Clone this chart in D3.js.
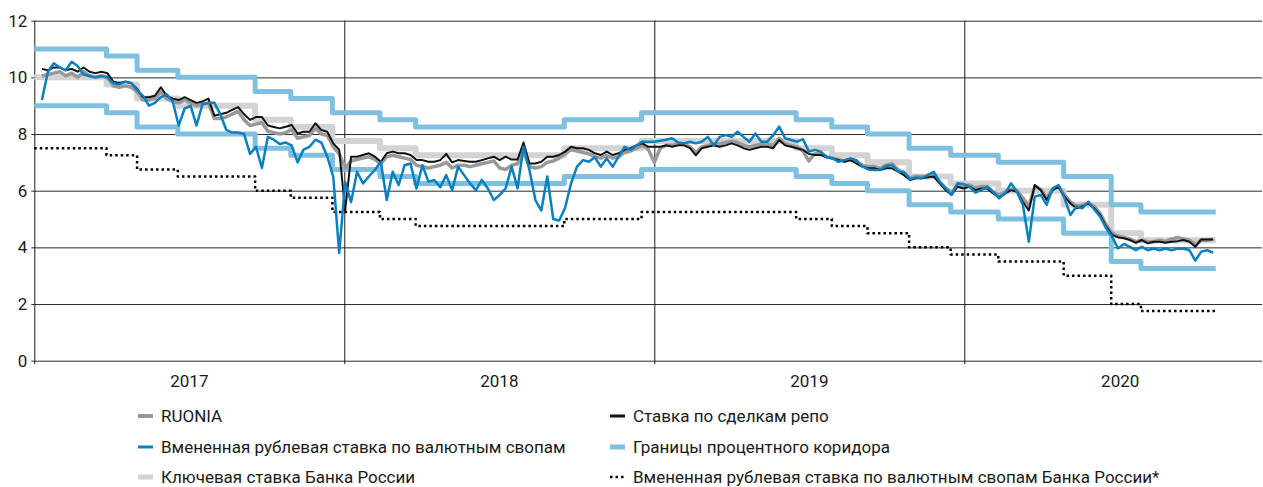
<!DOCTYPE html>
<html>
<head>
<meta charset="utf-8">
<script src="https://cdn.jsdelivr.net/npm/d3@7"></script>
<style>
  body { margin: 0; background: #fff; }
  svg { display: block; }
  text { font-family: Roboto, "Open Sans", sans-serif; fill: #1a1a1a; }
</style>
</head>
<body>
<svg width="1263" height="487"></svg>
<script>
// weekly observations, first one on 2017-01-10
var firstWeek = "2017-01-10";

var repo = [
  10.3, 10.25, 10.35, 10.35, 10.25, 10.3, 10.2, 10.35, 10.2, 10.15,
  10.2, 10.15, 9.85, 9.8, 9.85, 9.8, 9.6, 9.3, 9.3, 9.35,
  9.65, 9.35, 9.25, 9.2, 9.3, 9.2, 9.1, 9.15, 9.25, 8.65,
  8.7, 8.75, 8.85, 8.95, 8.7, 8.5, 8.6, 8.6, 8.3, 8.25,
  8.2, 8.26, 8.32, 8.02, 8.08, 8.08, 8.38, 8.14, 8.08, 7.67,
  7.45, 5.3,
  // 2018
  7.2, 7.2, 7.26, 7.32, 7.2, 7.02, 7.32, 7.38, 7.32, 7.32,
  7.26, 7.08, 7.08, 7.02, 7.02, 7.08, 7.3, 7.0, 7.08, 7.05,
  7.02, 7.02, 7.08, 7.14, 7.2, 7.08, 7.2, 7.1, 7.1, 7.7,
  6.96, 6.96, 7.02, 7.2, 7.2, 7.26, 7.38, 7.55, 7.5, 7.5,
  7.44, 7.32, 7.26, 7.38, 7.26, 7.32, 7.44, 7.5, 7.6, 7.67,
  7.55,
  // 2019
  7.55, 7.55, 7.6, 7.55, 7.6, 7.6, 7.5, 7.25, 7.5, 7.55,
  7.6, 7.55, 7.6, 7.67, 7.6, 7.5, 7.44, 7.5, 7.55, 7.55,
  7.5, 7.79, 7.6, 7.55, 7.5, 7.44, 7.3, 7.26, 7.26, 7.18,
  7.14, 7.08, 7.02, 7.08, 6.96, 6.85, 6.79, 6.79, 6.73, 6.79,
  6.79, 6.67, 6.55, 6.38, 6.44, 6.44, 6.47, 6.5, 6.26, 6.02,
  5.85, 6.14,
  // 2020
  6.08, 6.14, 6.02, 6.08, 6.08, 5.9, 5.76, 5.9, 6.02, 5.96,
  5.6, 5.3, 6.2, 6.02, 5.67, 6.02, 6.14, 5.79, 5.55, 5.38,
  5.44, 5.55, 5.38, 5.14, 4.73, 4.44, 4.35, 4.32, 4.26, 4.16,
  4.26, 4.14, 4.2, 4.2, 4.16, 4.2, 4.22, 4.26, 4.2, 4.02,
  4.28, 4.28, 4.28
];

var ruonia = [
  10.05, 10.1, 10.15, 10.2, 10.05, 10.15, 10.0, 10.2, 10.05, 10.0,
  10.05, 10.0, 9.7, 9.65, 9.7, 9.65, 9.5, 9.2, 9.2, 9.25,
  9.5, 9.25, 9.15, 9.1, 9.2, 9.1, 9.0, 9.05, 9.1, 8.55,
  8.55, 8.6, 8.7, 8.8, 8.5, 8.3, 8.35, 8.4, 8.1, 8.05,
  8.0, 8.05, 8.15, 7.85, 7.9, 7.95, 8.2, 8.0, 7.95, 7.55,
  7.3, 6.8,
  // 2018
  7.05, 7.1, 7.15, 7.2, 7.1, 6.95, 7.2, 7.25, 7.2, 7.15,
  7.1, 6.9, 6.85, 6.8, 6.85, 6.9, 7.0, 6.8, 6.9, 6.9,
  6.85, 6.9, 6.95, 7.0, 7.05, 6.8, 6.75, 6.9, 6.95, 7.4,
  6.85, 6.8, 6.85, 7.0, 7.05, 7.15, 7.3, 7.45, 7.4, 7.35,
  7.3, 7.2, 7.15, 7.25, 7.15, 7.2, 7.35, 7.4, 7.5, 7.6,
  7.45,
  // 2019
  7.0, 7.5, 7.6, 7.6, 7.65, 7.65, 7.55, 7.35, 7.55, 7.6,
  7.65, 7.65, 7.7, 7.75, 7.7, 7.6, 7.55, 7.6, 7.65, 7.65,
  7.6, 7.85, 7.65, 7.6, 7.55, 7.4, 7.05, 7.3, 7.3, 7.2,
  7.15, 7.1, 7.05, 7.1, 7.0, 6.9, 6.85, 6.85, 6.8, 6.9,
  6.95, 6.75, 6.6, 6.45, 6.5, 6.5, 6.5, 6.55, 6.3, 6.1,
  5.95, 6.2,
  // 2020
  6.15, 6.2, 6.1, 6.15, 6.15, 5.95, 5.85, 5.95, 6.05, 6.0,
  5.75, 5.45, 6.15, 6.05, 5.75, 6.05, 6.15, 5.85, 5.6, 5.45,
  5.5, 5.55, 5.45, 5.2, 4.8, 4.5, 4.4, 4.35, 4.3, 4.2,
  4.25, 4.2, 4.2, 4.25, 4.2, 4.3, 4.35, 4.3, 4.25, 4.1,
  4.25, 4.25, 4.3
];

var swap = [
  9.2, 10.2, 10.5, 10.35, 10.25, 10.55, 10.4, 10.1, 10.05, 10.0,
  10.05, 10.0, 9.8, 9.75, 9.85, 9.8, 9.55, 9.35, 9.0, 9.1,
  9.3, 9.4, 9.15, 8.3, 8.9, 9.0, 8.3, 9.05, 9.1, 9.1,
  8.7, 8.15, 8.05, 8.05, 8.0, 7.3, 7.55, 6.8, 7.9, 7.8,
  7.65, 7.7, 7.6, 7.0, 7.45, 7.55, 7.8, 7.7, 7.2, 6.5,
  3.8, 6.3,
  // 2018
  5.6, 6.67, 6.26, 6.5, 6.73, 7.02, 5.67, 6.67, 6.2, 6.9,
  6.96, 6.08, 6.9, 6.32, 6.38, 6.12, 6.55, 6.02, 6.85, 6.55,
  6.26, 6.02, 6.38, 6.08, 5.67, 5.85, 6.08, 6.85, 6.08, 7.55,
  6.73, 5.67, 5.3, 6.5, 5.0, 4.95, 5.4, 6.26, 6.85, 7.08,
  7.02, 7.18, 6.85, 7.14, 6.85, 7.2, 7.55, 7.44, 7.6, 7.73,
  7.73,
  // 2019
  7.73, 7.76, 7.8, 7.85, 7.7, 7.67, 7.73, 7.67, 7.73, 7.9,
  7.6, 7.9, 7.96, 7.9, 8.08, 7.9, 7.73, 8.02, 7.73, 7.73,
  7.96, 8.26, 7.85, 7.79, 7.73, 7.82, 7.38, 7.44, 7.38, 7.18,
  7.14, 7.02, 7.08, 7.14, 7.08, 6.85, 6.75, 6.73, 6.73, 6.87,
  6.9, 6.67, 6.67, 6.4, 6.47, 6.44, 6.55, 6.67, 6.32, 6.08,
  5.85, 6.26,
  // 2020
  6.24, 6.14, 5.93, 6.02, 6.14, 5.96, 5.73, 5.9, 6.26, 5.96,
  5.5, 4.2, 5.79, 5.85, 5.5, 6.08, 6.2, 5.73, 5.14, 5.44,
  5.38, 5.61, 5.34, 5.08, 4.67, 4.38, 3.96, 4.12, 4.02, 3.9,
  4.02, 3.9, 3.96, 3.9, 3.96, 3.9, 3.95, 3.96, 3.9, 3.53,
  3.85, 3.9, 3.81
];

// policy rate steps (value holds from its date until the next one)
var stepDates = [
  "2017-01-01", "2017-03-27", "2017-05-02", "2017-06-19", "2017-09-18",
  "2017-10-30", "2017-12-18", "2018-02-12", "2018-03-26", "2018-09-17",
  "2018-12-17", "2019-06-17", "2019-07-29", "2019-09-09", "2019-10-28",
  "2019-12-16", "2020-02-10", "2020-04-27", "2020-06-22", "2020-07-27"
];
var endDate = "2020-10-23";
var keyRate =     [10, 9.75, 9.25, 9, 8.5, 8.25, 7.75, 7.5, 7.25, 7.5, 7.75, 7.5, 7.25, 7, 6.5, 6.25, 6, 5.5, 4.5, 4.25];
var corridorTop = [11, 10.75, 10.25, 10, 9.5, 9.25, 8.75, 8.5, 8.25, 8.5, 8.75, 8.5, 8.25, 8, 7.5, 7.25, 7, 6.5, 5.5, 5.25];
var corridorBot = [9, 8.75, 8.25, 8, 7.5, 7.25, 6.75, 6.5, 6.25, 6.5, 6.75, 6.5, 6.25, 6, 5.5, 5.25, 5, 4.5, 3.5, 3.25];
var cbrSwap =     [7.5, 7.25, 6.75, 6.5, 6, 5.75, 5.25, 5, 4.75, 5, 5.25, 5, 4.75, 4.5, 4, 3.75, 3.5, 3, 2, 1.75];

var yTicks = [0, 2, 4, 6, 8, 10, 12];
var years = [2017, 2018, 2019, 2020];

var svg = d3.select("svg");
var parse = d3.timeParse("%Y-%m-%d");

// plot box (note: "top" is reserved on window, so prefixed names)
var plotL = 34.3, plotR = 1262, plotT = 20.7, plotB = 360.7;

var x = d3.scaleTime()
  .domain([new Date(2017, 0, 1), new Date(2020, 0, 1)])
  .range([plotL, plotL + 3 * 310]);
var y = d3.scaleLinear().domain([0, 12]).range([plotB, plotT]);

function weekly(values) {
  var start = parse(firstWeek);
  return values.map(function(v, i) { return { date: d3.timeDay.offset(start, 7 * i), v: v }; });
}
function steps(values) {
  var pts = values.map(function(v, i) { return { date: parse(stepDates[i]), v: v }; });
  pts.push({ date: parse(endDate), v: values[values.length - 1] });
  return pts;
}

// horizontal grid
var grid = svg.append("g").attr("transform", "translate(" + plotL + ",0)")
  .call(d3.axisLeft(y).tickValues(yTicks).tickSize(-(plotR - plotL)).tickFormat(""));
grid.select(".domain").remove();
grid.selectAll("line").attr("stroke", "#2a2a2a").attr("stroke-width", 1);

// y ticks and labels
var yAxis = svg.append("g").attr("transform", "translate(" + plotL + ",0)")
  .call(d3.axisLeft(y).tickValues(yTicks).tickSize(3).tickPadding(4));
yAxis.select(".domain").remove();
yAxis.selectAll("line").attr("stroke", "#2a2a2a");
yAxis.selectAll("text").style("font-size", "17px").style("font-family", "Roboto, sans-serif").attr("fill", "#1a1a1a");

// year boundaries
var xGrid = svg.append("g").attr("transform", "translate(0," + (plotB + 3.5) + ")")
  .call(d3.axisBottom(x).tickValues(years.map(function(d) { return new Date(d, 0, 1); }))
    .tickSize(-(plotB + 3.5 - plotT)).tickFormat(""));
xGrid.select(".domain").remove();
xGrid.selectAll("line").attr("stroke", "#1a1a1a").attr("stroke-width", 1);

// year labels at mid-year
var xAxis = svg.append("g").attr("transform", "translate(0," + plotB + ")")
  .call(d3.axisBottom(x).tickValues(years.map(function(d) { return new Date(d, 6, 2); }))
    .tickSize(0).tickPadding(14).tickFormat(d3.timeFormat("%Y")));
xAxis.select(".domain").remove();
xAxis.selectAll("text").style("font-size", "17px").style("font-family", "Roboto, sans-serif").attr("fill", "#1a1a1a");

var line = d3.line().x(function(d) { return x(d.date); }).y(function(d) { return y(d.v); });
var stepLine = d3.line().curve(d3.curveStepAfter).x(function(d) { return x(d.date); }).y(function(d) { return y(d.v); });

function draw(data, gen, color, width, dash) {
  svg.append("path")
    .datum(data)
    .attr("d", gen)
    .attr("fill", "none")
    .attr("stroke", color)
    .attr("stroke-width", width)
    .attr("stroke-linejoin", "round")
    .attr("stroke-dasharray", dash || null);
}

draw(steps(keyRate), stepLine, "#d3d3d3", 6);
draw(steps(corridorTop), stepLine, "#7fbfdf", 5);
draw(steps(corridorBot), stepLine, "#7fbfdf", 5);
draw(steps(cbrSwap), stepLine, "#000", 2.5, "2.5,3");
draw(weekly(ruonia), line, "#999999", 3.5);
draw(weekly(repo), line, "#111111", 2);
draw(weekly(swap), line, "#0a80c0", 2.5);

// legend
var legend = [
  { name: "RUONIA", color: "#999999", w: 4, col: 0, row: 0 },
  { name: "Ставка по сделкам репо", color: "#111111", w: 3, col: 1, row: 0 },
  { name: "Вмененная рублевая ставка по валютным свопам", color: "#0a80c0", w: 3, col: 0, row: 1 },
  { name: "Границы процентного коридора", color: "#7fbfdf", w: 5, col: 1, row: 1 },
  { name: "Ключевая ставка Банка России", color: "#d3d3d3", w: 5, col: 0, row: 2 },
  { name: "Вмененная рублевая ставка по валютным свопам Банка России*", color: "#000", w: 2.5, col: 1, row: 2, dash: "2.5,3" }
];
var colX = [138, 610], rowY = [416, 447, 477];

var items = svg.append("g").selectAll("g").data(legend).enter().append("g")
  .attr("transform", function(d) { return "translate(" + colX[d.col] + "," + rowY[d.row] + ")"; });
items.append("line")
  .attr("x1", 0).attr("x2", 15)
  .attr("stroke", function(d) { return d.color; })
  .attr("stroke-width", function(d) { return d.w; })
  .attr("stroke-dasharray", function(d) { return d.dash || null; });
items.append("text")
  .attr("x", 23).attr("dy", "0.35em")
  .style("font-size", "17px")
  .text(function(d) { return d.name; });
</script>
</body>
</html>
